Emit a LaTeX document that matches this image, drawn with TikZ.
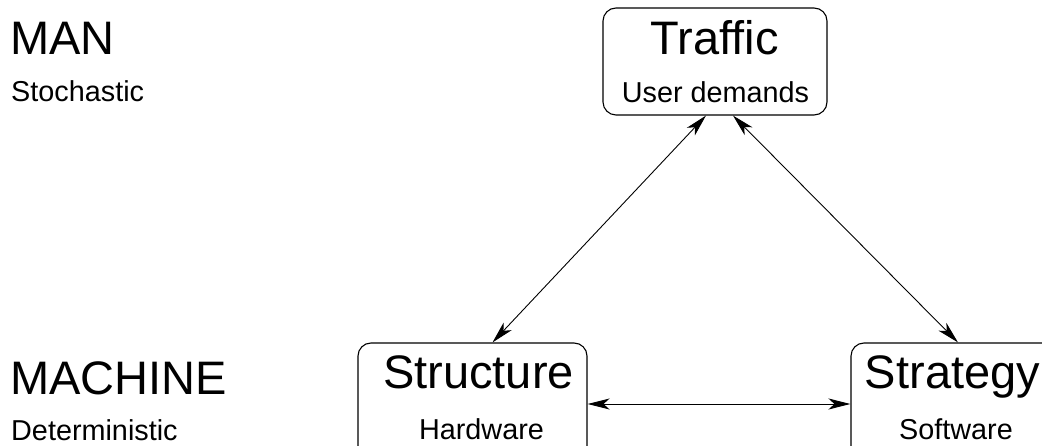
\documentclass[tikz,border=0pt]{standalone}
\usepackage{fontspec}
\setmainfont[Ligatures=NoCommon]{Liberation Sans}
\usetikzlibrary{arrows.meta,calc}
\begin{document}
\begin{tikzpicture}[x=1pt,y=-1pt,
  box/.style={draw,line width=1.1pt,rounded corners=13pt,inner sep=0pt},
  big/.style={inner sep=0pt,font=\fontsize{47}{47}\selectfont},
  small/.style={inner sep=0pt,font=\fontsize{28.8}{28.8}\selectfont},
  link/.style={line width=0.9pt,{Stealth[length=22pt,width=11pt,inset=6pt]}-{Stealth[length=22pt,width=11pt,inset=6pt]}}]
\useasboundingbox (0,0) rectangle (1042,446);
\clip (0,0) rectangle (1042,446);
\node[box,minimum width=224pt,minimum height=107pt] (traffic) at (715,61.5) {};
\node[box,minimum width=229pt,minimum height=122pt] (structure) at (472.5,404) {};
\node[box,minimum width=229pt,minimum height=122pt] (strategy) at (965.5,404) {};
\node[big,anchor=base] (t1) at (714.5,55) {Traf{}f{}ic};
\node[small,anchor=base] (t2) at (715.5,103) {User demands};
\node[big,anchor=base] (s1) at (478.5,388.5) {Structure};
\node[small,anchor=base] (s2) at (481.5,439) {Hardware};
\node[big,anchor=base] (g1) at (952.5,388.5) {Strategy};
\node[small,anchor=base] (g2) at (956,439) {Software};
\node[big,anchor=base west] (man) at (10,55) {MAN};
\node[small,anchor=base west] (sto) at (11,102) {Stochastic};
\node[big,anchor=base west] (mach) at (10,395) {MACHINE};
\node[small,anchor=base west] (det) at (11,440) {Deterministic};
\draw[link] ([xshift=-9pt]traffic.south) -- ([xshift=20pt]structure.north);
\draw[link] ([xshift=18pt]traffic.south) -- ([xshift=-7.5pt]strategy.north);
\draw[link] (structure.east) -- (strategy.west);
\end{tikzpicture}
\end{document}
